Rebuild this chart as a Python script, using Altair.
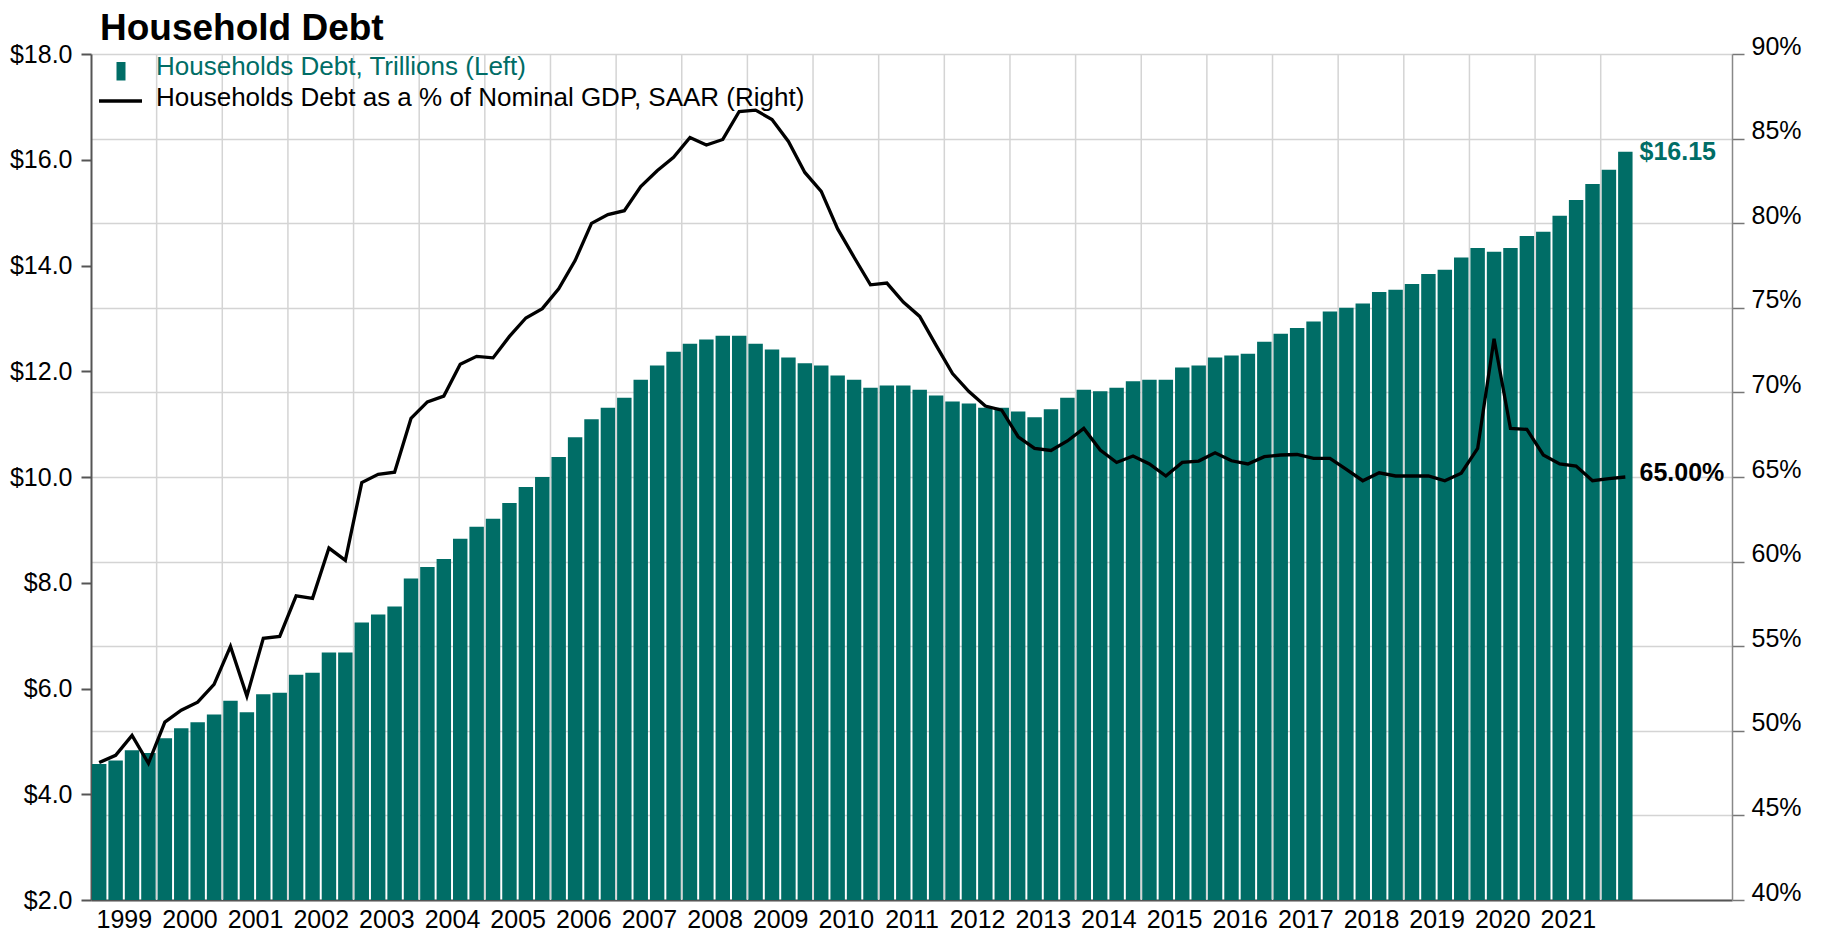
import altair as alt
import pandas as pd

# ---------------- data ----------------
TITLE = "Household Debt"
SERIES_NAMES = [
    "Households Debt, Trillions (Left)",
    "Households Debt as a % of Nominal GDP, SAAR (Right)",
]

# quarterly, 1999Q1 .. 2022Q2
QUARTERS = [f"{y}Q{q}" for y in range(1999, 2023) for q in range(1, 5)][:94]

DEBT = [
    4.57, 4.64, 4.83, 4.78, 5.06, 5.25, 5.36, 5.51, 5.77, 5.55, 5.89, 5.92,
    6.26, 6.30, 6.68, 6.68, 7.25, 7.40, 7.55, 8.08, 8.30, 8.45, 8.83, 9.06,
    9.21, 9.51, 9.81, 10.00, 10.38, 10.75, 11.09, 11.31, 11.50, 11.84, 12.11, 12.37,
    12.52, 12.60, 12.67, 12.67, 12.52, 12.41, 12.26, 12.15, 12.11, 11.92, 11.84, 11.69,
    11.73, 11.73, 11.65, 11.54, 11.43, 11.39, 11.31, 11.31, 11.24, 11.13, 11.28, 11.50,
    11.65, 11.62, 11.69, 11.81, 11.84, 11.84, 12.07, 12.11, 12.26, 12.30, 12.33, 12.56,
    12.71, 12.82, 12.94, 13.13, 13.20, 13.28, 13.50, 13.54, 13.65, 13.84, 13.92, 14.15,
    14.33, 14.26, 14.33, 14.56, 14.64, 14.94, 15.24, 15.54, 15.81, 16.15,
]

PCT = [
    48.12, 48.55, 49.73, 48.08, 50.51, 51.22, 51.69, 52.74, 54.99, 52.05, 55.47, 55.58,
    57.98, 57.83, 60.80, 60.07, 64.67, 65.16, 65.28, 68.46, 69.44, 69.78, 71.66, 72.13,
    72.04, 73.31, 74.40, 74.95, 76.12, 77.79, 79.99, 80.51, 80.74, 82.16, 83.10, 83.89,
    85.07, 84.62, 84.95, 86.60, 86.68, 86.13, 84.83, 83.00, 81.88, 79.66, 77.99, 76.36,
    76.46, 75.34, 74.49, 72.78, 71.11, 70.05, 69.19, 68.95, 67.38, 66.69, 66.57, 67.13,
    67.87, 66.59, 65.86, 66.24, 65.77, 65.06, 65.86, 65.94, 66.43, 65.96, 65.77, 66.20,
    66.30, 66.33, 66.10, 66.10, 65.45, 64.78, 65.25, 65.06, 65.06, 65.06, 64.78, 65.22,
    66.69, 73.17, 67.87, 67.81, 66.30, 65.77, 65.65, 64.78, 64.90, 65.00,
]

YEAR_LABELS = [1999, 2000, 2001, 2002, 2003, 2004, 2005, 2006, 2007, 2008, 2009, 2010,
               2011, 2012, 2013, 2014, 2015, 2016, 2017, 2018, 2019, 2020, 2021]
GRID_YEARS = [2000, 2001, 2002, 2003, 2004, 2005, 2006, 2007, 2008, 2009, 2010, 2011,
              2012, 2013, 2014, 2015, 2016, 2017, 2018, 2019, 2020, 2021, 2022]
X_DOMAIN = [1999, 2024]
LEFT_TICKS = [2, 4, 6, 8, 10, 12, 14, 16, 18]
RIGHT_TICKS = [40, 45, 50, 55, 60, 65, 70, 75, 80, 85, 90]

# ---------------- styles ----------------
FONT = "Liberation Sans"
TEAL = "#006d66"
GRID = "#d4d4d4"
W, H = 1641, 846

df = pd.DataFrame({"quarter": QUARTERS, "debt": DEBT, "pct": PCT})
df["t"] = df["quarter"].str[:4].astype(int) + (df["quarter"].str[-1].astype(int) - 1) / 4

last = df.tail(1).copy()
last["debt_label"] = "$" + last["debt"].map(lambda v: f"{v:.2f}")
last["pct_label"] = last["pct"].map(lambda v: f"{v:.2f}%")

xscale = alt.Scale(domain=X_DOMAIN, nice=False, zero=False)
lscale = alt.Scale(domain=[LEFT_TICKS[0], LEFT_TICKS[-1]], nice=False, zero=False)
rscale = alt.Scale(domain=[RIGHT_TICKS[0], RIGHT_TICKS[-1]], nice=False, zero=False)

x_axis = alt.Axis(
    values=[y + 0.5 for y in YEAR_LABELS], labelExpr="floor(datum.value)",
    ticks=False, grid=False, domainColor="#555555", domainWidth=2,
    labelFont=FONT, labelFontSize=25, labelColor="black", labelPadding=7,
    labelFlush=False, labelOverlap=False, title=None,
)
left_axis = alt.Axis(
    values=LEFT_TICKS, labelExpr="'$' + format(datum.value, '.1f')", orient="left",
    grid=False, tickSize=10, tickWidth=2, tickColor="#555555",
    domainColor="#555555", domainWidth=2,
    labelFont=FONT, labelFontSize=25, labelColor="black", labelPadding=9,
    labelOverlap=False, title=None,
)
right_axis = alt.Axis(
    values=RIGHT_TICKS, labelExpr="datum.value + '%'", orient="right",
    grid=True, gridColor=GRID, gridWidth=1.5,
    tickSize=12, tickWidth=1.5, tickColor="#777777",
    domainColor="#888888", domainWidth=1.5,
    labelFont=FONT, labelFontSize=25, labelColor="black", labelPadding=7,
    labelBaseline="alphabetic", labelOverlap=False, title=None,
)

vgrid = alt.Chart(pd.DataFrame({"yr": GRID_YEARS})).mark_rule(
    color=GRID, strokeWidth=1.5
).encode(x=alt.X("yr:Q", scale=xscale, axis=x_axis))

bars = alt.Chart(df).transform_calculate(
    x0="datum.t + 0.015", x1="datum.t + 0.235"
).mark_rect(color=TEAL, strokeWidth=0).encode(
    x=alt.X("x0:Q", scale=xscale, axis=x_axis),
    x2="x1:Q",
    y=alt.Y("debt:Q", scale=lscale, axis=left_axis),
    y2=alt.Y2(datum=LEFT_TICKS[0]),
)

ann_left = alt.Chart(last).transform_calculate(xe="datum.t + 0.235").mark_text(
    align="left", baseline="middle", dx=7, font=FONT, fontSize=25,
    fontWeight="bold", color=TEAL,
).encode(
    x=alt.X("xe:Q", scale=xscale, axis=x_axis),
    y=alt.Y("debt:Q", scale=lscale, axis=left_axis),
    text="debt_label:N",
)

line = alt.Chart(df).transform_calculate(xc="datum.t + 0.125").mark_line(
    color="black", strokeWidth=3.3
).encode(
    x=alt.X("xc:Q", scale=xscale, axis=x_axis),
    y=alt.Y("pct:Q", scale=rscale, axis=right_axis),
)

ann_right = alt.Chart(last).transform_calculate(xe="datum.t + 0.235").mark_text(
    align="left", baseline="middle", dx=7, dy=-4, font=FONT, fontSize=25,
    fontWeight="bold", color="black",
).encode(
    x=alt.X("xe:Q", scale=xscale, axis=x_axis),
    y=alt.Y("pct:Q", scale=rscale, axis=right_axis),
    text="pct_label:N",
)

left_layer = alt.layer(bars, ann_left)
right_layer = alt.layer(line, ann_right)

# ---- title and legend ----
title = alt.Chart(pd.DataFrame({"t": [TITLE]})).mark_text(
    align="left", baseline="alphabetic", font=FONT, fontSize=37,
    fontWeight="bold", color="black",
).encode(x=alt.value(9), y=alt.value(-14), text="t:N")

leg_rect = alt.Chart(pd.DataFrame({"s": [SERIES_NAMES[0]]})).mark_rect(
    color=TEAL
).encode(x=alt.value(25.5), x2=alt.value(34.5), y=alt.value(8), y2=alt.value(26.5))

leg_line = alt.Chart(pd.DataFrame({"s": [SERIES_NAMES[1]]})).mark_rule(
    color="black", strokeWidth=3.3
).encode(x=alt.value(8), x2=alt.value(51), y=alt.value(47))

leg_t1 = alt.Chart(pd.DataFrame({"s": [SERIES_NAMES[0]]})).mark_text(
    align="left", baseline="alphabetic", font=FONT, fontSize=26, color=TEAL,
).encode(x=alt.value(65), y=alt.value(21), text="s:N")

leg_t2 = alt.Chart(pd.DataFrame({"s": [SERIES_NAMES[1]]})).mark_text(
    align="left", baseline="alphabetic", font=FONT, fontSize=26, color="black",
).encode(x=alt.value(65), y=alt.value(52), text="s:N")

chart = alt.layer(
    vgrid, left_layer, right_layer, title, leg_rect, leg_line, leg_t1, leg_t2
).resolve_scale(
    y="independent"
).properties(
    width=W, height=H,
    autosize=alt.AutoSizeParams(type="none"),
    padding={"left": 83, "top": 46, "right": 72, "bottom": 40},
    background="white",
).configure_view(stroke=None)

chart.save("out.html", embed_options={"renderer": "svg", "actions": False})
